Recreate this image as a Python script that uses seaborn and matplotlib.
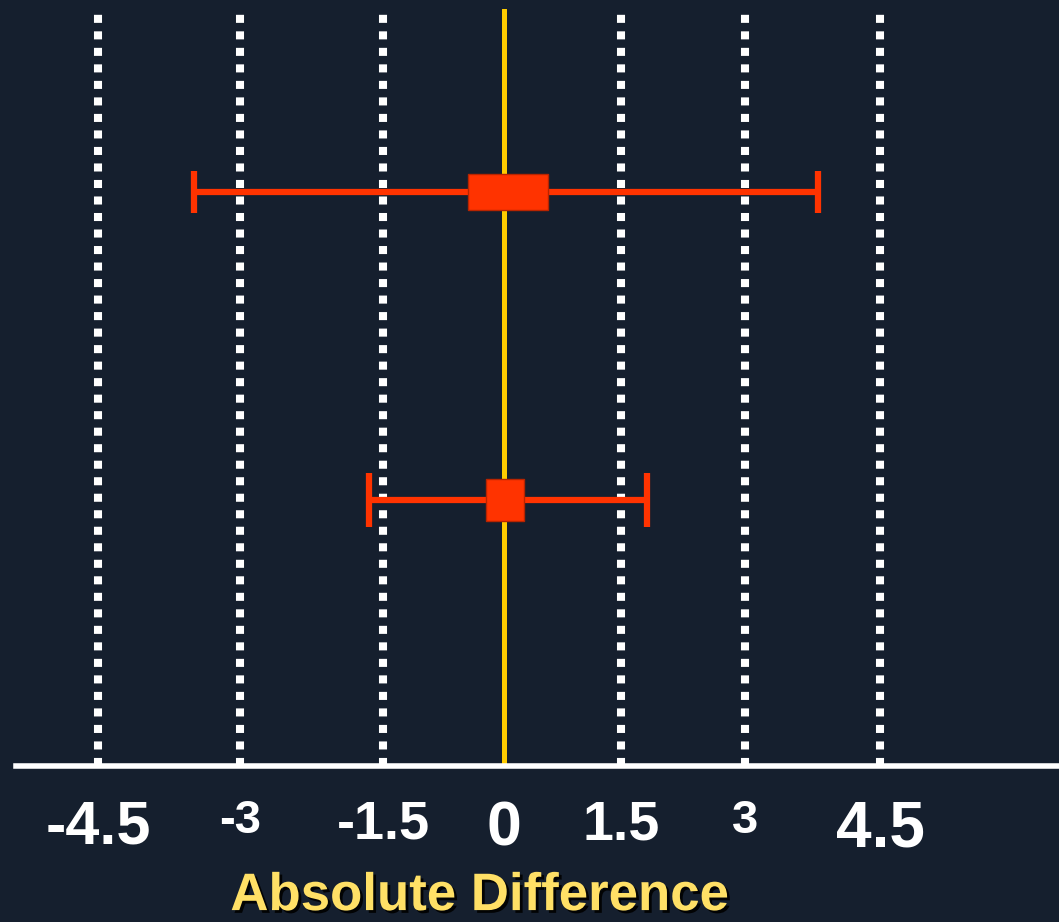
# Forest-style plot of absolute difference

import numpy as np
import matplotlib
matplotlib.use("Agg")
import matplotlib.pyplot as plt
import matplotlib.patheffects as pe
from matplotlib import font_manager
import seaborn as sns

# data
rows = [2, 1]
estimate = [0.05, 0.0]
ci_low = [-3.49, -1.65]
ci_high = [3.81, 1.81]
box_left = [-0.45, -0.22]
box_right = [0.56, 0.26]
tick_values = [-4.5, -3, -1.5, 0, 1.5, 3, 4.5]
tick_labels = ["-4.5", "-3", "-1.5", "0", "1.5", "3", "4.5"]
tick_sizes = [44, 34, 39, 45, 40, 34, 46]
grid_values = [-4.5, -3, -1.5, 1.5, 3, 4.5]

bg = "#151f2e"
red = "#ff3300"

sns.set_style("dark", {"axes.facecolor": bg, "figure.facecolor": bg})
installed = {f.name for f in font_manager.fontManager.ttflist}
font = "Liberation Sans Narrow" if "Liberation Sans Narrow" in installed else "Liberation Sans"
plt.rcParams["font.family"] = [font, "DejaVu Sans"]

# the slide's axis is hand drawn, spacing between ticks is not even
knots = np.array(tick_values, float)
drawn = np.array([98, 240, 383, 504, 621, 745, 880], float)


def _pw(v, a, b):
    v = np.asarray(v, float)
    out = np.interp(v, a, b)
    out = np.where(v < a[0], b[0] + (v - a[0]) * (b[1] - b[0]) / (a[1] - a[0]), out)
    out = np.where(v > a[-1], b[-1] + (v - a[-1]) * (b[-1] - b[-2]) / (a[-1] - a[-2]), out)
    return out


def forward(v):
    return _pw(v, knots, drawn)


def inverse(p):
    return _pw(p, drawn, knots)


fig = plt.figure(figsize=(10.59, 9.22), dpi=100)
ax = fig.add_axes([16 / 1059, 156 / 922, 1043 / 1059, 757 / 922])
ax.set_xscale("function", functions=(forward, inverse))
ax.set_xlim(float(inverse(16)), float(inverse(1059)))
ax.set_ylim(0.136, 2.594)

for g in grid_values:
    ax.axvline(g, color="white", lw=5.8, ls=(0, (1, 1.05)), zorder=1)
ax.axvline(0, color="#ffcc00", lw=3.6, zorder=2)

caps = [15, 19.5]
heights = [0.117, 0.136]
for i in range(len(rows)):
    ax.errorbar(estimate[i], rows[i],
                xerr=[[estimate[i] - ci_low[i]], [ci_high[i] - estimate[i]]],
                fmt="none", ecolor=red, elinewidth=4.5, capsize=caps[i],
                capthick=4.5, zorder=3)
    ax.barh(rows[i], box_right[i] - box_left[i], left=box_left[i],
            height=heights[i], color=red, edgecolor="#b82400", lw=1, zorder=4)

ax.set_yticks([])
ax.set_xticks(tick_values)
ax.set_xticklabels(tick_labels)
for lab, s in zip(ax.get_xticklabels(), tick_sizes):
    lab.set_fontsize(s)
    lab.set_color("white")
    lab.set_fontweight("bold")
ax.tick_params(axis="x", length=0, pad=24)
ax.grid(False)

for side in ["left", "right", "top"]:
    ax.spines[side].set_visible(False)
ax.spines["bottom"].set_visible(True)
ax.spines["bottom"].set_color("white")
ax.spines["bottom"].set_linewidth(4)

fig.text(479 / 1059, 0.001, "Absolute Difference", ha="center", va="bottom",
         fontsize=38, fontweight="bold", color="#ffe066",
         path_effects=[pe.SimplePatchShadow(offset=(2, -2), shadow_rgbFace="black", alpha=0.9),
                       pe.Normal()])

fig.savefig("out.png", dpi=100, facecolor=bg)
